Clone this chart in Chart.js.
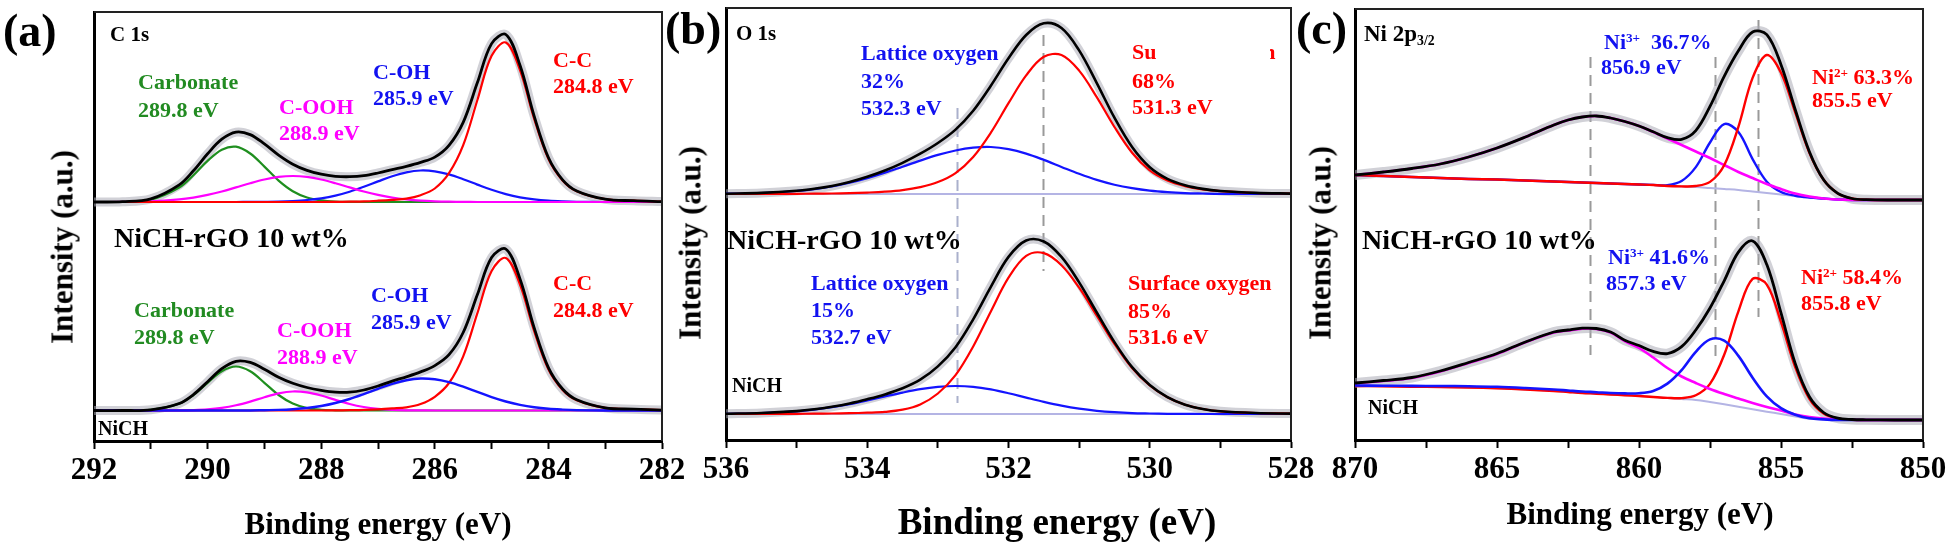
<!DOCTYPE html>
<html><head><meta charset="utf-8">
<script src="https://cdn.jsdelivr.net/npm/chart.js@4.4.1/dist/chart.umd.min.js"></script>
<style>
html,body{margin:0;padding:0;background:#fff;}
#stage{position:relative;width:1950px;height:544px;overflow:hidden;background:#fff;}
canvas{position:absolute;top:0;}
.t{position:absolute;font-family:"Liberation Serif","Times New Roman",serif;font-weight:bold;white-space:nowrap;line-height:1;transform:translateY(-50%);color:#000;}
.c{transform:translate(-50%,-50%);}
.r{transform:translate(-50%,-50%) rotate(-90deg);}
.sup{font-size:0.6em;position:relative;top:-0.55em;}
.sub{font-size:0.6em;position:relative;top:0.3em;}
.g{color:#228b22;font-size:22px;}
.m{color:#ff00ff;font-size:22px;}
.b{color:#1212f0;font-size:22px;}
.rd{color:#ff0000;font-size:22px;}
</style></head>
<body><div id="stage">
<canvas id="ca" width="700" height="544" style="left:0px;width:700px;height:544px"></canvas>
<canvas id="cb" width="659" height="544" style="left:670px;width:659px;height:544px"></canvas>
<canvas id="cc" width="650" height="544" style="left:1300px;width:650px;height:544px"></canvas>

<!-- panel (a) -->
<div class="t" style="left:3px;top:31px;font-size:46px">(a)</div>
<div class="t" style="left:110px;top:34px;font-size:21px">C 1s</div>
<div class="t g" style="left:138px;top:82px">Carbonate</div>
<div class="t g" style="left:138px;top:110px">289.8 eV</div>
<div class="t m" style="left:279px;top:107px">C-OOH</div>
<div class="t m" style="left:279px;top:133px">288.9 eV</div>
<div class="t b" style="left:373px;top:72px">C-OH</div>
<div class="t b" style="left:373px;top:98px">285.9 eV</div>
<div class="t rd" style="left:553px;top:60px">C-C</div>
<div class="t rd" style="left:553px;top:86px">284.8 eV</div>
<div class="t" style="left:114px;top:238px;font-size:28px">NiCH-rGO 10 wt%</div>
<div class="t g" style="left:134px;top:310px">Carbonate</div>
<div class="t g" style="left:134px;top:337px">289.8 eV</div>
<div class="t m" style="left:277px;top:330px">C-OOH</div>
<div class="t m" style="left:277px;top:357px">288.9 eV</div>
<div class="t b" style="left:371px;top:295px">C-OH</div>
<div class="t b" style="left:371px;top:322px">285.9 eV</div>
<div class="t rd" style="left:553px;top:283px">C-C</div>
<div class="t rd" style="left:553px;top:310px">284.8 eV</div>
<div class="t" style="left:98px;top:428px;font-size:20px">NiCH</div>
<div class="t r" style="left:62px;top:247px;font-size:31px">Intensity (a.u.)</div>
<div class="t c" style="left:378px;top:523px;font-size:31px">Binding energy (eV)</div>

<!-- panel (b) -->
<div class="t" style="left:665px;top:29px;font-size:46px">(b)</div>
<div class="t" style="left:736px;top:33px;font-size:21px">O 1s</div>
<div class="t b" style="left:861px;top:53px">Lattice oxygen</div>
<div class="t b" style="left:861px;top:81px">32%</div>
<div class="t b" style="left:861px;top:108px">532.3 eV</div>
<div class="t rd" style="left:1132px;top:52px">Surface oxygen</div>
<div style="position:absolute;left:1157px;top:37px;width:113px;height:32px;background:#fff"></div>
<div class="t rd" style="left:1132px;top:81px">68%</div>
<div class="t rd" style="left:1132px;top:107px">531.3 eV</div>
<div class="t" style="left:727px;top:240px;font-size:28px">NiCH-rGO 10 wt%</div>
<div class="t b" style="left:811px;top:283px">Lattice oxygen</div>
<div class="t b" style="left:811px;top:310px">15%</div>
<div class="t b" style="left:811px;top:337px">532.7 eV</div>
<div class="t rd" style="left:1128px;top:283px">Surface oxygen</div>
<div class="t rd" style="left:1128px;top:311px">85%</div>
<div class="t rd" style="left:1128px;top:337px">531.6 eV</div>
<div class="t" style="left:732px;top:385px;font-size:20px">NiCH</div>
<div class="t r" style="left:690px;top:243px;font-size:31px">Intensity (a.u.)</div>
<div class="t c" style="left:1057px;top:521px;font-size:37px">Binding energy (eV)</div>

<!-- panel (c) -->
<div class="t" style="left:1296px;top:29px;font-size:46px">(c)</div>
<div class="t" style="left:1364px;top:33px;font-size:23px">Ni 2p<span class="sub">3/2</span></div>
<div class="t b" style="left:1604px;top:42px">Ni<span class="sup">3+</span>&nbsp; 36.7%</div>
<div class="t b" style="left:1601px;top:67px">856.9 eV</div>
<div class="t rd" style="left:1812px;top:77px">Ni<span class="sup">2+</span> 63.3%</div>
<div class="t rd" style="left:1812px;top:100px">855.5 eV</div>
<div class="t" style="left:1362px;top:240px;font-size:28px">NiCH-rGO 10 wt%</div>
<div class="t b" style="left:1608px;top:257px">Ni<span class="sup">3+</span> 41.6%</div>
<div class="t b" style="left:1606px;top:283px">857.3 eV</div>
<div class="t rd" style="left:1801px;top:277px">Ni<span class="sup">2+</span> 58.4%</div>
<div class="t rd" style="left:1801px;top:303px">855.8 eV</div>
<div class="t" style="left:1368px;top:407px;font-size:20px">NiCH</div>
<div class="t r" style="left:1320px;top:243px;font-size:31px">Intensity (a.u.)</div>
<div class="t c" style="left:1640px;top:513px;font-size:31px">Binding energy (eV)</div>
</div>

<script>
// ---------------- DATA ----------------
// (a) C 1s, binding energy (eV)
const aEnergy = [292, 291.5, 291, 290.5, 290.25, 290, 289.75, 289.5, 289.25, 289, 288.75, 288.5, 288.25, 288, 287.75, 287.5, 287.25, 287, 286.75, 286.5, 286.25, 286, 285.75, 285.5, 285.25, 285, 284.75, 284.5, 284.25, 284, 283.75, 283.5, 283, 282.5, 282];
// upper spectrum (NiCH-rGO 10 wt%), intensity above its baseline (a.u.)
const aTopEnvelope  = [0, 0.3, 3.1, 17.1, 31.2, 48.2, 62.8, 69.9, 67.4, 58.1, 46.9, 37.8, 31.6, 27.8, 25.7, 25.3, 26.3, 29.0, 32.4, 35.7, 39.7, 44.9, 56.7, 79.7, 119.4, 158.4, 167.5, 136.7, 85.8, 44.5, 22.2, 11.0, 2.8, 1.3, 0.4];
const aTopCarbonate = [0, 0.2, 2.4, 14.5, 26.8, 41.1, 52.3, 55.3, 48.5, 35.4, 21.4, 10.8, 4.5, 1.6, 0.4, 0.1, 0, 0, 0, 0, 0, 0, 0, 0, 0, 0, 0, 0, 0, 0, 0, 0, 0, 0, 0];
const aTopCOOH      = [0, 0.1, 0.7, 2.6, 4.4, 7.1, 10.5, 14.6, 18.8, 22.5, 25.1, 26, 25.1, 22.5, 18.8, 14.6, 10.5, 7.1, 4.4, 2.6, 1.4, 0.7, 0.3, 0.1, 0, 0, 0, 0, 0, 0, 0, 0, 0, 0, 0];
const aTopCOH       = [0, 0, 0, 0, 0, 0, 0, 0, 0.1, 0.2, 0.4, 1.0, 2.0, 3.7, 6.4, 10.3, 15.2, 20.6, 25.8, 29.7, 31.5, 30.7, 27.6, 22.8, 17.4, 12.2, 7.9, 4.7, 2.6, 1.3, 0.6, 0.2, 0, 0, 0];
const aTopCC        = [0, 0, 0, 0, 0, 0, 0, 0, 0, 0, 0, 0, 0, 0, 0.1, 0.3, 0.6, 1.3, 2.2, 3.4, 6.8, 13.5, 28.8, 56.8, 102, 146.2, 159.5, 132, 83.2, 43.2, 21.6, 10.8, 2.8, 1.3, 0.4];
// lower spectrum (NiCH)
const aBotEnvelope  = [0, 0, 0.7, 7.0, 15.9, 28.8, 41.8, 49.2, 48.1, 41.3, 33.2, 27.2, 23.0, 20.2, 18.4, 18.3, 20.5, 24.5, 29.4, 33.7, 38.6, 44.9, 55.8, 78.0, 115.9, 152.9, 161.5, 131.6, 82.6, 42.9, 21.5, 10.7, 2.7, 1.3, 0.4];
const aBotCarbonate = [0, 0, 0.7, 6.9, 15.5, 27.7, 39.2, 44, 39.2, 27.7, 15.5, 6.9, 2.4, 0.7, 0.2, 0, 0, 0, 0, 0, 0, 0, 0, 0, 0, 0, 0, 0, 0, 0, 0, 0, 0, 0, 0];
const aBotCOOH      = [0, 0, 0, 0.1, 0.4, 1.1, 2.6, 5.2, 8.9, 13.3, 17.1, 19.0, 18.1, 15.0, 10.6, 6.5, 3.5, 1.6, 0.6, 0.2, 0.1, 0, 0, 0, 0, 0, 0, 0, 0, 0, 0, 0, 0, 0, 0];
const aBotCOH       = [0, 0, 0, 0, 0, 0, 0, 0, 0, 0.3, 0.6, 1.3, 2.5, 4.5, 7.5, 11.5, 16.4, 21.7, 26.7, 30.3, 32.0, 31.2, 28.3, 23.8, 18.6, 13.4, 9.0, 5.6, 3.2, 1.7, 0.9, 0.4, 0, 0, 0];
const aBotCC        = [0, 0, 0, 0, 0, 0, 0, 0, 0, 0, 0, 0, 0, 0, 0.1, 0.3, 0.6, 1.2, 2.1, 3.2, 6.5, 13.7, 27.5, 54.2, 97.3, 139.5, 152.5, 126.0, 79.4, 41.2, 20.6, 10.3, 2.7, 1.3, 0.4];

// (b) O 1s
const bEnergy = [536, 535.5, 535, 534.75, 534.5, 534.25, 534, 533.75, 533.5, 533.25, 533, 532.75, 532.5, 532.25, 532, 531.75, 531.5, 531.25, 531, 530.75, 530.5, 530.25, 530, 529.75, 529.5, 529.25, 529, 528.5, 528];
const bTopEnvelope = [0.3, 1.1, 3.2, 5.2, 8.0, 12.0, 17.2, 23.5, 31.2, 40.3, 51.0, 64.4, 83.3, 108.3, 135.7, 159.0, 170.7, 166.0, 143.6, 110.9, 76.3, 47.0, 26.8, 15.2, 8.8, 5.1, 3.0, 1.1, 0.4];
const bTopLattice  = [0.3, 1.0, 3.0, 4.9, 7.5, 11.2, 15.8, 21.2, 27.3, 33.4, 39.1, 43.5, 46.3, 47.0, 44.9, 40.4, 34.1, 27.1, 20.2, 14.1, 9.3, 5.8, 3.3, 1.8, 0.9, 0.5, 0.2, 0.1, 0];
const bTopSurface  = [0, 0.1, 0.2, 0.3, 0.5, 0.8, 1.4, 2.3, 3.9, 6.9, 11.9, 20.9, 37.0, 61.3, 90.8, 118.6, 137.2, 139.0, 123.4, 96.8, 67.0, 41.2, 23.5, 13.4, 7.9, 4.6, 2.8, 1.0, 0.4];
const bBotEnvelope = [0.2, 1.0, 2.9, 4.7, 7.3, 10.6, 14.8, 19.6, 25.7, 34.3, 47.6, 66.8, 94.7, 127.2, 157.1, 173.5, 172.5, 157.1, 131.6, 101.5, 71.9, 46.8, 29.0, 16.9, 9.3, 5.0, 2.7, 1.0, 0.4];
const bBotLattice  = [0.2, 0.9, 2.7, 4.4, 6.8, 9.8, 13.5, 17.5, 21.4, 24.8, 27.1, 28.0, 27.2, 24.6, 20.8, 16.4, 12.1, 8.3, 5.3, 3.2, 1.8, 0.9, 0.5, 0.2, 0.1, 0, 0, 0, 0];
const bBotSurface  = [0, 0.1, 0.2, 0.3, 0.5, 0.8, 1.3, 2.1, 4.3, 9.5, 20.5, 38.8, 67.5, 102.6, 136.3, 158.1, 160.9, 148.8, 126.3, 98.3, 70.1, 45.9, 28.5, 16.7, 9.2, 5.0, 2.7, 1.0, 0.4];
const bBaselineEnergy = [536, 528];
const bBaseline = [0, 0];
const bMarkerEnergy = [532.73, 531.51];

// (c) Ni 2p3/2
const cEnergy = [870, 869, 868, 867, 866, 865, 864, 863, 862.5, 862, 861.5, 861, 860.5, 860, 859.5, 859, 858.5, 858, 857.5, 857, 856.5, 856, 855.5, 855, 854.5, 854, 853.5, 853, 852.5, 852, 851, 850];
const cTopBackground = [25, 24, 23, 22, 21, 20.5, 19.5, 18.5, 18, 17.5, 17, 16.5, 16, 15.5, 15, 14, 13.5, 13, 12, 11, 10, 8.5, 7, 5.5, 4, 2.5, 1.5, 0.5, 0, 0, 0, 0];
const cTopSatellite  = [25, 28, 31.5, 36, 43, 52, 63, 75, 80, 83, 84, 82, 78.5, 74, 68, 61.5, 55, 48.5, 42, 35, 28, 22, 16, 11, 6.5, 3.5, 1.5, 0.5, 0, 0, 0, 0];
const cTopNi3        = [25, 24, 23, 22, 21, 20.5, 19.5, 18.5, 18, 17.5, 17, 16.5, 16, 15.5, 15.1, 14.9, 19.0, 32.9, 57.5, 75.9, 68.0, 40.9, 18.3, 8.0, 4.3, 2.5, 1.5, 0.5, 0, 0, 0, 0];
const cTopNi2        = [25, 24, 23, 22, 21, 20.5, 19.5, 18.5, 18, 17.5, 17, 16.5, 16, 15.5, 15, 14, 13.6, 14.0, 18.1, 34.8, 73.2, 122.1, 145, 127.3, 87.7, 47.3, 20.2, 6.6, 1.5, 0.3, 0, 0];
const cTopEnvelope   = [25, 28, 31.5, 36, 43, 52, 63, 75, 80, 83, 84, 82, 78.5, 74, 68.2, 62.4, 60.6, 69.4, 93.6, 123.7, 149.2, 168, 165.3, 135.3, 90.5, 48.3, 20.2, 6.6, 1.5, 0.3, 0, 0];
const cBotBackground = [34, 33.7, 33.3, 33, 32.5, 31.7, 30.5, 29, 28, 27, 26.3, 25.5, 24.8, 24, 23, 22, 21, 20, 18, 15.7, 13.2, 10.7, 8.3, 6, 3.6, 1.3, 0.5, 0, 0, 0, 0, 0];
const cBotSatellite  = [36.7, 39, 42, 48.5, 57, 66, 77.7, 87.5, 89.5, 91.3, 91, 87.5, 79, 72, 62.5, 52, 43.5, 37, 31, 26, 21.5, 17, 13, 9.5, 5.5, 3, 1.5, 0.7, 0.3, 0, 0, 0];
const cBotNi3        = [34.5, 34.3, 34.1, 34, 33.8, 33.2, 32, 30.5, 29.5, 28.5, 27.8, 27, 26.6, 26.8, 29.1, 36.4, 49.9, 68.2, 80.6, 79.4, 64.1, 42.3, 23.6, 11.8, 5.3, 1.7, 0.6, 0, 0, 0, 0, 0];
const cBotNi2        = [34, 33.7, 33.3, 33, 32.5, 31.7, 30.5, 29, 28, 27, 26.3, 25.5, 24.8, 24, 23, 22.1, 21.9, 24.7, 36.1, 65.2, 108.7, 141.1, 135.4, 97.8, 53, 21.1, 6.4, 1.3, 0.2, 0, 0, 0];
const cBotEnvelope   = [37, 39.5, 42.5, 49, 57.5, 66.5, 78, 88, 90, 91.8, 91.5, 88, 79.8, 74.5, 68.6, 66.4, 73.3, 90, 112, 139.2, 167.9, 179, 155.4, 107.1, 56.6, 23.2, 7.5, 1.8, 0.5, 0.2, 0, 0];
const cMarkerEnergy = [861.73, 857.32, 855.81];

// ---------------- STYLE ----------------
const FONT = "'Liberation Serif', 'Times New Roman', serif";
const RAW = 'rgba(172,172,182,0.55)';
const BLACK = '#000000', RED = '#ff0000', BLUE = '#1414ff', MAGENTA = '#ff00ff', GREEN = '#1f8f1f', LAV = '#b4b4e4';

const framePlugin = {
  id: 'frame',
  afterDatasetsDraw(chart) {
    const {ctx, chartArea: a} = chart;
    ctx.save();
    ctx.strokeStyle = '#222';
    ctx.lineWidth = 2;
    ctx.beginPath();
    ctx.moveTo(a.left, a.top);
    ctx.lineTo(a.right, a.top);
    ctx.lineTo(a.right, a.bottom);
    ctx.stroke();
    ctx.restore();
  }
};
const markerPlugin = {
  id: 'markers',
  beforeDatasetsDraw(chart, args, opts) {
    const lines = (opts && opts.lines) || [];
    const {ctx} = chart;
    const xs = chart.scales.x;
    ctx.save();
    ctx.lineWidth = 2;
    ctx.setLineDash([11, 7]);
    lines.forEach(l => {
      const px = Math.round(xs.getPixelForValue(l.x)) + 0.5;
      ctx.strokeStyle = l.color;
      ctx.beginPath();
      ctx.moveTo(px, l.from);
      ctx.lineTo(px, l.to);
      ctx.stroke();
    });
    ctx.restore();
  }
};

function makePanel(p) {
  const n = p.series.length;
  const datasets = p.series.map((s, i) => {
    const xs = s.energy || p.energy;
    return {
      data: xs.map((e, k) => ({x: e, y: s.values[k]})),
      yAxisID: s.axis,
      borderColor: s.color,
      borderWidth: s.width,
      pointRadius: 0,
      fill: false,
      tension: 0.35,
      order: n - i
    };
  });
  new Chart(document.getElementById(p.canvas), {
    type: 'line',
    data: {datasets},
    plugins: [markerPlugin, framePlugin],
    options: {
      responsive: false,
      animation: false,
      devicePixelRatio: 1,
      layout: {padding: p.pad},
      plugins: {legend: {display: false}, tooltip: {enabled: false}, markers: {lines: p.markers}},
      scales: {
        x: {
          type: 'linear', reverse: true, min: p.min, max: p.max,
          ticks: {
            stepSize: p.step, autoSkip: false, maxRotation: 0, minRotation: 0, padding: 3, color: '#000',
            font: {family: FONT, size: 31, weight: 'bold', lineHeight: 1.2},
            callback: v => (Math.abs(v % p.major) < 1e-6 ? String(v) : '')
          },
          grid: {drawOnChartArea: false, drawTicks: true, tickLength: 8, tickWidth: 2, tickColor: '#000'},
          border: {display: true, color: '#000', width: 3},
          afterFit: s => { s.height = p.xAxisH; }
        },
        yTop: {
          type: 'linear', position: 'left', min: p.topRange[0], max: p.topRange[1],
          ticks: {display: false}, grid: {display: false},
          border: {display: true, color: '#000', width: 3},
          afterFit: s => { s.width = p.yAxisW; }
        },
        yBot: {
          type: 'linear', position: 'left', display: false, min: p.botRange[0], max: p.botRange[1]
        }
      }
    }
  });
}

// (a)
makePanel({
  canvas: 'ca', energy: aEnergy, min: 282, max: 292, step: 1, major: 2,
  pad: {left: 0, right: 38, top: 12, bottom: 0}, yAxisW: 94, xAxisH: 103,
  topRange: [-239, 190], botRange: [-30.5, 398.5], markers: [],
  series: [
    {axis: 'yBot', values: aBotEnvelope, color: RAW, width: 9},
    {axis: 'yBot', values: aBotCarbonate, color: GREEN, width: 2.2},
    {axis: 'yBot', values: aBotCOOH, color: MAGENTA, width: 2.2},
    {axis: 'yBot', values: aBotCC, color: RED, width: 2.2},
    {axis: 'yBot', values: aBotCOH, color: BLUE, width: 2.4},
    {axis: 'yBot', values: aBotEnvelope, color: BLACK, width: 2.8},
    {axis: 'yTop', values: aTopEnvelope, color: RAW, width: 9},
    {axis: 'yTop', values: aTopCarbonate, color: GREEN, width: 2.2},
    {axis: 'yTop', values: aTopCOH, color: BLUE, width: 2.2},
    {axis: 'yTop', values: aTopCOOH, color: MAGENTA, width: 2.2},
    {axis: 'yTop', values: aTopCC, color: RED, width: 2.2},
    {axis: 'yTop', values: aTopEnvelope, color: BLACK, width: 2.8}
  ]
});

// (b)
makePanel({
  canvas: 'cb', energy: bEnergy, min: 528, max: 536, step: 1, major: 2,
  pad: {left: 0, right: 38, top: 8, bottom: 0}, yAxisW: 56, xAxisH: 104,
  topRange: [-246, 186], botRange: [-26, 406],
  markers: [
    {x: bMarkerEnergy[0], from: 108, to: 403, color: '#aab0cc'},
    {x: bMarkerEnergy[1], from: 35, to: 271, color: '#9a9a9a'}
  ],
  series: [
    {axis: 'yBot', values: bBaseline, energy: bBaselineEnergy, color: LAV, width: 2},
    {axis: 'yBot', values: bBotEnvelope, color: RAW, width: 9},
    {axis: 'yBot', values: bBotLattice, color: BLUE, width: 2.2},
    {axis: 'yBot', values: bBotSurface, color: RED, width: 2.2},
    {axis: 'yBot', values: bBotEnvelope, color: BLACK, width: 2.6},
    {axis: 'yTop', values: bBaseline, energy: bBaselineEnergy, color: LAV, width: 2},
    {axis: 'yTop', values: bTopEnvelope, color: RAW, width: 9},
    {axis: 'yTop', values: bTopLattice, color: BLUE, width: 2.2},
    {axis: 'yTop', values: bTopSurface, color: RED, width: 2.2},
    {axis: 'yTop', values: bTopEnvelope, color: BLACK, width: 2.6}
  ]
});

// (c)
makePanel({
  canvas: 'cc', energy: cEnergy, min: 850, max: 870, step: 2.5, major: 5,
  pad: {left: 0, right: 27, top: 9, bottom: 0}, yAxisW: 55, xAxisH: 104,
  topRange: [-240, 191], botRange: [-20, 411],
  markers: [
    {x: cMarkerEnergy[0], from: 57, to: 355, color: '#9a9a9a'},
    {x: cMarkerEnergy[1], from: 57, to: 357, color: '#9a9a9a'},
    {x: cMarkerEnergy[2], from: 20, to: 317, color: '#9a9a9a'}
  ],
  series: [
    {axis: 'yBot', values: cBotBackground, color: LAV, width: 2},
    {axis: 'yBot', values: cBotEnvelope, color: RAW, width: 10},
    {axis: 'yBot', values: cBotNi2, color: RED, width: 2.4},
    {axis: 'yBot', values: cBotSatellite, color: MAGENTA, width: 2.6},
    {axis: 'yBot', values: cBotNi3, color: BLUE, width: 2.6},
    {axis: 'yBot', values: cBotEnvelope, color: BLACK, width: 2.8},
    {axis: 'yTop', values: cTopBackground, color: LAV, width: 2},
    {axis: 'yTop', values: cTopEnvelope, color: RAW, width: 10},
    {axis: 'yTop', values: cTopNi3, color: BLUE, width: 2.4},
    {axis: 'yTop', values: cTopSatellite, color: MAGENTA, width: 2.6},
    {axis: 'yTop', values: cTopNi2, color: RED, width: 2.4},
    {axis: 'yTop', values: cTopEnvelope, color: BLACK, width: 2.8}
  ]
});
</script>
</body></html>
